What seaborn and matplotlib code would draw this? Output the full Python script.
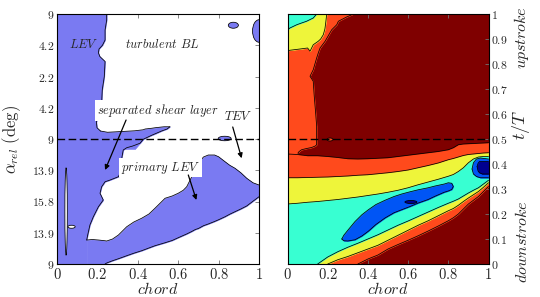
import numpy as np
import matplotlib
matplotlib.use("Agg")
import matplotlib.pyplot as plt
from matplotlib.patches import Ellipse
import seaborn as sns

# ---------------- left panel: boundaries of the vorticity-criterion region (chord, t/T) ----------------
COL_T = [.499, .532, .545, .569, .60, .643, .696, .749, .81, .83, .845, .86, .875, .896, .936, .976, 1]
COL_X = [.215, .215, .198, .195, .21, .221, .224, .234, .238, .212, .205, .208, .225, .238, .238, .246, .246]
WL_T = [0, .096, .116, .156, .189, .229, .256, .283, .309, .329, .335, .349, .36, .39, .43, .456, .465, .472, .483, .499, .515, .532, .54, .549]
WL_X = [.147, .147, .152, .163, .18, .205, .229, .213, .221, .238, .26, .304, .31, .315, .322, .328, .345, .375, .411, .427, .469, .518, .545, .559]
EXT_X = [.215, .25, .32, .386, .427, .436, .469, .485, .518, .53, .545, .559]
EXT_TOP = [.532, .527, .53, .533, .537, .54, .543, .545, .548, .549, .549, .549]
EXT_BOT = [.46, .46, .46, .46, .499, .502, .515, .52, .532, .536, .54, .549]
BAND_X = [.147, .175, .205, .238, .246, .275, .304, .345, .38, .419, .455, .485, .535, .57, .60, .625, .642, .667, .685, .70, .725, .749, .78, .80, .832, .855, .881, .91, .939, .97, 1]
BAND_TOP = [.096, .098, .096, .093, .092, .1, .116, .149, .168, .183, .2, .223, .263, .272, .283, .295, .309, .349, .38, .403, .428, .436, .436, .429, .409, .395, .383, .365, .343, .325, .316]
BAND_BOT = [0, 0, 0, 0, .004, .013, .021, .033, .043, .053, .064, .073, .085, .094, .105, .114, .12, .13, .138, .142, .153, .16, .17, .177, .189, .199, .209, .22, .232, .251, .269]
BLOB_X = [.83, .873, 1.0]
BLOB_T = [.502, .955, .932]
BLOB_W = [.064, .05, .064]
BLOB_H = [.018, .024, .09]
HOLE_X = [.045, .072]
HOLE_T = [.21, .149]
HOLE_W = [.012, .036]
HOLE_H = [.35, .012]
LEFT_TICKS = ["9", "13.9", "15.8", "13.9", "9", "4.2", "2.2", "4.2", "9"]

# ---------------- right panel: level boundaries (chord, t/T) ----------------
RX = [0, .05, .1, .15, .2, .25, .3, .35, .4, .45, .5, .55, .6, .65, .7, .75, .8, .825, .85, .875, .9, .925, .95, .975, 1]
ORANGE_TOP = [.44, .438, .433, .433, .43, .426, .421, .42, .421, .423, .425, .43, .435, .44, .445, .45, .457, .465, .477, .48, .481, .482, .483, .484, .485]
ORANGE_BOT = [0, 0, 0, 0, 0, 0, 0, 0, .02, .036, .06, .078, .095, .113, .132, .152, .173, .185, .2, .22, .24, .255, .27, .29, .31]
YEL_TOP = [.345, .345, .346, .347, .348, .35, .352, .355, .357, .361, .365, .37, .376, .385, .394, .404, .417, .422, .428, .434, .438, .44, .442, .444, .445]
YEL_BOT = [0, 0, 0, 0, 0, .017, .03, .045, .06, .075, .095, .115, .135, .155, .173, .193, .213, .222, .235, .25, .264, .277, .29, .307, .325]
CYAN_TOP = [.24, .243, .247, .25, .254, .258, .263, .268, .274, .28, .287, .295, .305, .317, .328, .339, .351, .358, .37, .385, .405, .42, .428, .43, .43]
CYAN_BOT = [0, 0, 0, 0, .028, .049, .067, .083, .1, .117, .136, .155, .172, .19, .208, .226, .243, .251, .26, .272, .284, .295, .305, .32, .335]
OCOL_T = [.44, .444, .45, .457, .462, .466, .472, .477, .504, .551, .604, .671, .731, .751, .764, .777, .824, .844, .864, .891, .937, .957, .971, .988, 1]
OCOL_X = [.054, .052, .058, .07, .095, .12, .138, .145, .145, .145, .14, .133, .128, .112, .12, .128, .145, .153, .162, .187, .22, .245, .253, .294, .328]
YC_X = [0, .012, .062, .1, .112, .128, .153, .165, .178, .186, .19, .195]
YC_BOT = [.853, .855, .86, .864, .851, .877, .891, .90, .917, .94, .964, 1]
CC_X = [0, .012, .046, .07, .095, .128, .145]
CC_BOT = [.937, .944, .957, .964, .971, .984, 1]
BLUE_X = [.27, .28, .30, .336, .37, .402, .44, .485, .53, .568, .61, .651, .70, .734, .78, .80, .817, .825]
BLUE_TOP = [.10, .115, .135, .17, .197, .217, .238, .255, .27, .28, .289, .297, .305, .312, .32, .325, .323, .31]
BLUE_BOT = [.10, .093, .092, .097, .112, .131, .158, .184, .205, .217, .23, .244, .258, .271, .287, .292, .298, .31]
RING_X = [.918, .925, .94, .96, .98, 1]
RING_TOP = [.38, .405, .42, .424, .422, .42]
RING_BOT = [.38, .36, .35, .345, .345, .345]
NAVY_X = [.943, .948, .955, .97, .985, 1]
NAVY_TOP = [.39, .403, .41, .41, .41, .41]
NAVY_BOT = [.39, .372, .365, .36, .36, .36]
SPOT_X, SPOT_T, SPOT_W, SPOT_H = [.614, .211], [.248, .498], [.06, .03], [.012, .012]
RIGHT_TICKS = ["0", "0.1", "0.2", "0.3", "0.4", "0.5", "0.6", "0.7", "0.8", "0.9", "1"]
X_TICKS = ["0", "0.2", "0.4", "0.6", "0.8", "1"]

# ---------------- style ----------------
sns.set_style("ticks", {"xtick.direction": "in", "ytick.direction": "in"})
plt.rcParams['mathtext.fontset'] = 'cm'
pal = sns.color_palette(["#00008f", "#0055f5", "#38ffd2", "#eef53a", "#ff4a1c", "#7f0000"])
LBLUE = "#7a7af2"
EDGE = dict(color="k", lw=0.55, sort=False, estimator=None, legend=False, zorder=3)

fig = plt.figure(figsize=(5.4, 2.97), dpi=100)
ax1 = fig.add_axes([57/540, 33/297, 202/540, 250/297])
ax2 = fig.add_axes([287.5/540, 33/297, 201/540, 250/297])

def fb(ax, x, lo, hi, c):
    ax.fill_between(x, lo, hi, color=c, lw=0.4, ec=c, zorder=1)

def fbx(ax, t, lo, hi, c, where=None):
    ax.fill_betweenx(t, lo, hi, color=c, lw=0.4, ec=c, zorder=1, where=where)

def edge(ax, x, t):
    sns.lineplot(x=np.asarray(x), y=np.asarray(t), ax=ax, **EDGE)

# left panel
wl_t = np.array(WL_T)
fbx(ax1, COL_T, 0, COL_X, LBLUE)
fbx(ax1, WL_T, 0, WL_X, LBLUE, where=wl_t <= 0.5)
fb(ax1, EXT_X, EXT_BOT, EXT_TOP, LBLUE)
fb(ax1, BAND_X, BAND_BOT, BAND_TOP, LBLUE)
edge(ax1, COL_X[1:], COL_T[1:])
edge(ax1, EXT_X, EXT_TOP)
edge(ax1, WL_X[1:], WL_T[1:])
edge(ax1, BAND_X, BAND_TOP)
edge(ax1, BAND_X[3:], BAND_BOT[3:])
for x, t, w, h in zip(BLOB_X, BLOB_T, BLOB_W, BLOB_H):
    ax1.add_patch(Ellipse((x, t), w, h, fc=LBLUE, ec="k", lw=0.55, zorder=3))
for x, t, w, h in zip(HOLE_X, HOLE_T, HOLE_W, HOLE_H):
    ax1.add_patch(Ellipse((x, t), w, h, fc="white", ec="k", lw=0.55, zorder=3))

# right panel
ax2.fill_between([0, 1], 0, 1, color=pal[5], lw=0, zorder=0)
fbx(ax2, OCOL_T, 0, OCOL_X, pal[4])
fb(ax2, RX, ORANGE_BOT, ORANGE_TOP, pal[4])
fb(ax2, RX, YEL_BOT, YEL_TOP, pal[3])
fb(ax2, YC_X, YC_BOT, 1, pal[3])
fb(ax2, RX, CYAN_BOT, CYAN_TOP, pal[2])
fb(ax2, CC_X, CC_BOT, 1, pal[2])
fb(ax2, BLUE_X, BLUE_BOT, BLUE_TOP, pal[1])
fb(ax2, RING_X, RING_BOT, RING_TOP, pal[1])
fb(ax2, NAVY_X, NAVY_BOT, NAVY_TOP, pal[0])
edge(ax2, OCOL_X, OCOL_T)
edge(ax2, RX, ORANGE_TOP)
edge(ax2, RX[7:], ORANGE_BOT[7:])
edge(ax2, RX, YEL_TOP)
edge(ax2, RX[4:], YEL_BOT[4:])
edge(ax2, RX, CYAN_TOP)
edge(ax2, RX[3:], CYAN_BOT[3:])
edge(ax2, YC_X, YC_BOT)
edge(ax2, CC_X, CC_BOT)
edge(ax2, BLUE_X + BLUE_X[::-1], BLUE_TOP + BLUE_BOT[::-1])
edge(ax2, RING_X, RING_TOP)
edge(ax2, RING_X, RING_BOT)
edge(ax2, NAVY_X, NAVY_TOP)
edge(ax2, NAVY_X, NAVY_BOT)
for x, t, w, h, c in zip(SPOT_X, SPOT_T, SPOT_W, SPOT_H, [pal[0], pal[4]]):
    ax2.add_patch(Ellipse((x, t), w, h, fc=c, ec="k", lw=0.55, zorder=3))

for ax in (ax1, ax2):
    ax.axhline(0.5, color="k", lw=1, ls=(0, (5.5, 2.5)), zorder=4)
    ax.set_xlim(0, 1); ax.set_ylim(0, 1)
    ax.set_xticks(np.linspace(0, 1, len(X_TICKS)), [f"${s}$" for s in X_TICKS])
    ax.tick_params(axis="x", labelsize=10.5, pad=2)
    ax.tick_params(axis="y", labelsize=8.5, pad=2)
    ax.tick_params(which="both", top=True, right=True, left=True, bottom=True,
                   length=3, width=0.6, color="0.45")
    ax.set_xlabel(r"$\mathit{chord}$", fontsize=11.5)
    ax.xaxis.set_label_coords(0.5, -0.068)
    ax.set_ylabel("")
    for s in ax.spines.values():
        s.set_linewidth(0.8); s.set_color("k"); s.set_zorder(5)

ax1.set_yticks(np.linspace(0, 1, len(LEFT_TICKS)), [f"${s}$" for s in LEFT_TICKS])
ax1.set_ylabel(r"$\alpha_{rel}\ \mathrm{(deg)}$", fontsize=12)
ax1.yaxis.set_label_coords(-0.17, 0.5)
ax2.set_yticks(np.linspace(0, 1, len(RIGHT_TICKS)), [f"${s}$" for s in RIGHT_TICKS])
ax2.tick_params(labelleft=False, labelright=True)

tk = dict(fontsize=9, ha="center", va="center", zorder=6)
bb = dict(boxstyle="square,pad=0.15", fc="white", ec="none")
ax1.text(.13, .876, r"$\mathit{LEV}$", **tk)
ax1.text(.52, .88, r"$\mathit{turbulent\ BL}$", **tk)
ax1.text(.50, .615, r"$\mathit{separated\ shear\ layer}$", bbox=bb, **tk)
ax1.text(.896, .592, r"$\mathit{TEV}$", **tk)
ax1.text(.513, .386, r"$\mathit{primary\ LEV}$", bbox=bb, **tk)
ap = dict(arrowstyle="-|>", lw=0.9, color="k", mutation_scale=7, shrinkA=0, shrinkB=0)
ax1.annotate("", xy=(.238, .376), xytext=(.342, .576), arrowprops=ap, zorder=6)
ax1.annotate("", xy=(.914, .423), xytext=(.87, .548), arrowprops=ap, zorder=6)
ax1.annotate("", xy=(.69, .256), xytext=(.65, .356), arrowprops=ap, zorder=6)

sk = dict(transform=ax2.transAxes, rotation=90, ha="center", va="center")
ax2.text(1.162, .555, r"$t/T$", fontsize=13, **sk)
ax2.text(1.165, .905, r"$\mathit{upstroke}$", fontsize=11.5, **sk)
ax2.text(1.165, .09, r"$\mathit{downstroke}$", fontsize=11.5, **sk)

fig.savefig("out.png", dpi=100)
